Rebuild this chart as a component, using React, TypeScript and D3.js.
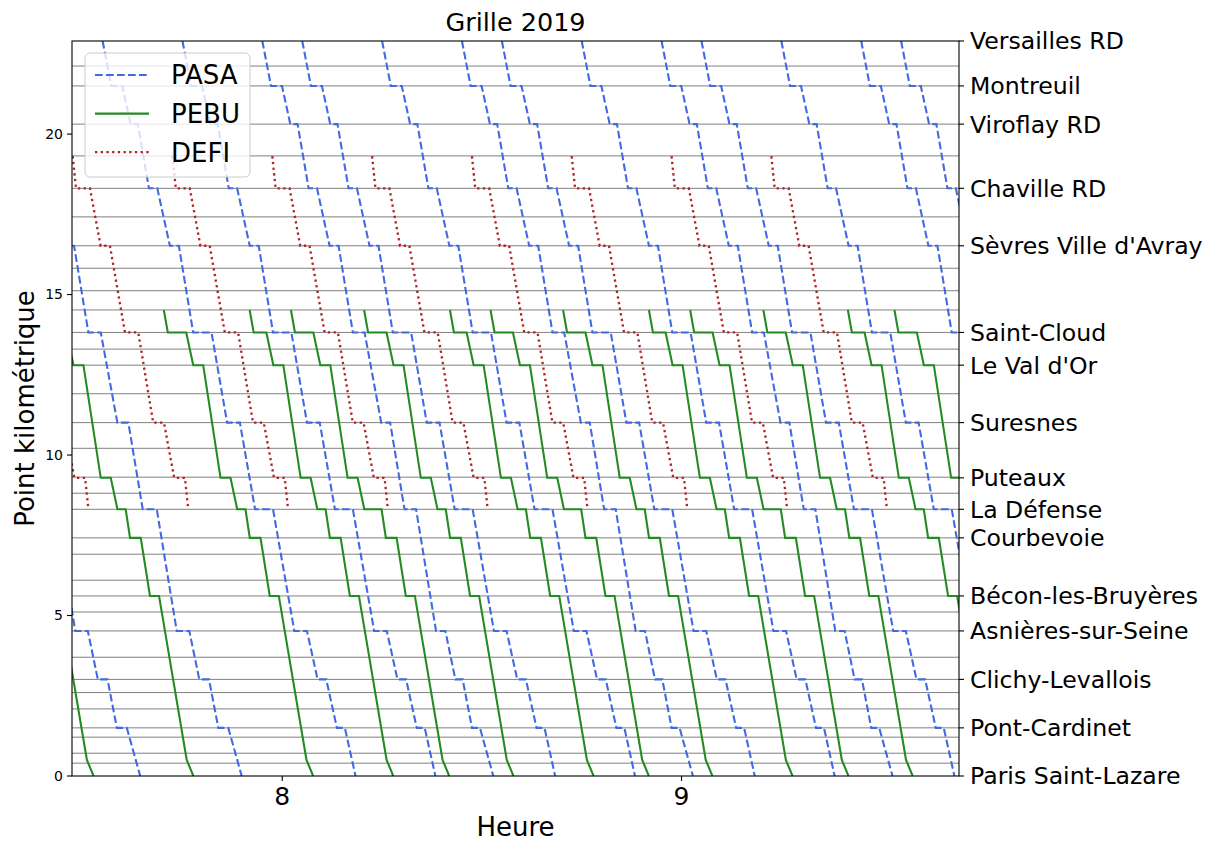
import React from "react";
import * as d3 from "d3";

// ---------- stations (right axis) ----------
const stationNames = [
  "Paris Saint-Lazare", "Pont-Cardinet", "Clichy-Levallois", "Asnières-sur-Seine",
  "Bécon-les-Bruyères", "Courbevoie", "La Défense", "Puteaux", "Suresnes",
  "Le Val d'Or", "Saint-Cloud", "Sèvres Ville d'Avray", "Chaville RD",
  "Viroflay RD", "Montreuil", "Versailles RD",
];
const stationPK = [0, 1.5, 3.01, 4.52, 5.61, 7.42, 8.31, 9.29, 11.01, 12.8, 13.82, 16.52, 18.31, 20.31, 21.5, 22.9];

// horizontal reference lines (PK)
const gridPK = [
  0.4, 0.71, 1.21, 1.5, 2.09, 2.6, 3.01, 3.7, 4.52, 5.11, 5.61, 6.1, 6.91, 7.42,
  8.31, 8.81, 9.31, 10.21, 11.01, 11.91, 12.8, 13.3, 13.82, 14.52, 15.12, 15.82,
  16.52, 17.42, 18.31, 19.32, 20.31, 21.5, 22.12,
];

// ---------- axis ticks ----------
const leftTicks = [0, 5, 10, 15, 20];
const hourTicks = [8, 9];
const timeDomain = [448.4, 581.7]; // minutes since midnight
const pkDomain = [0, 22.9];

// ---------- PASA (Versailles RD -> Paris Saint-Lazare) ----------
// [minutes after departure, PK] up to Saint-Cloud arrival
const pasaUpper: [number, number][] = [
  [0, 22.9], [1.31, 21.5], [2.96, 21.5], [4.21, 20.31], [5.3, 20.31],
  [6.96, 18.31], [8.22, 18.31], [10.11, 16.52], [11.46, 16.52], [13.61, 13.82],
];
// [minutes after Saint-Cloud arrival, PK]
const pasaLowerE: [number, number][] = [
  [0, 13.82], [1.86, 13.82], [4.36, 11.01], [6.01, 11.01], [8.17, 8.31], [10.28, 8.31],
  [13.28, 4.52], [15.17, 4.52], [16.67, 3.01], [18.13, 3.01], [19.53, 1.5], [21.03, 1.5], [23.04, 0],
];
const pasaLowerS: [number, number][] = [
  [0, 13.82], [2.76, 13.82], [5.1, 11.01], [7.02, 11.01], [9.3, 8.31], [12.0, 8.31],
  [15.2, 4.52], [17.1, 4.52], [18.7, 3.01], [20.0, 3.01], [21.6, 1.5], [22.8, 1.5], [24.4, 0],
];
const pasaLowerF: [number, number][] = [
  [0, 13.82], [1.76, 13.82], [4.26, 11.01], [5.6, 11.01], [7.76, 8.31], [9.5, 8.31],
  [12.5, 4.52], [13.9, 4.52], [15.4, 3.01], [16.5, 3.01], [17.9, 1.5], [19.1, 1.5], [21.1, 0],
];
const pasaDepart = [422, 437.25, 453, 465, 477, 483, 495, 507, 513, 525, 537, 543, 555, 567, 573];
const pasaType = ["E", "E", "S", "S", "F", "S", "S", "F", "S", "S", "F", "S", "S", "F", "S"];

// ---------- PEBU ----------
const pebuX: [number, number][] = [
  [0, 14.52], [0.6, 13.82], [3.37, 13.82], [4.42, 12.8], [5.92, 12.8], [8.52, 9.29], [10.02, 9.29],
  [11.03, 8.31], [12.27, 8.31], [12.92, 7.42], [14.53, 7.42], [15.92, 5.61], [17.28, 5.61],
  [21.44, 0.5], [22.44, 0],
];
const pebuY: [number, number][] = [
  [0, 14.52], [0.6, 13.82], [2.51, 13.82], [3.56, 12.8], [5.06, 12.8], [7.66, 9.29], [9.16, 9.29],
  [10.17, 8.31], [11.41, 8.31], [12.06, 7.42], [13.67, 7.42], [15.06, 5.61], [16.42, 5.61],
  [20.58, 0.5], [21.58, 0],
];
const pebuZ: [number, number][] = [
  [0, 14.52], [0.6, 13.82], [3.37, 13.82], [4.42, 12.8], [5.92, 12.8], [8.52, 9.29], [10.02, 9.29],
  [11.03, 8.31], [13.62, 8.31], [14.27, 7.42], [15.88, 7.42], [17.27, 5.61], [18.63, 5.61],
  [22.79, 0.5], [23.79, 0],
];
const pebuStart = [429.2, 444.2, 462.2, 475.1, 481.3, 492.3, 505.2, 511.3, 522.2, 535.1, 541.3, 552.3, 565.0, 572.0];
const pebuType = ["X", "X", "X", "Y", "Z", "X", "Y", "Z", "X", "Y", "Z", "X", "Y", "Z"];

// ---------- DEFI ----------
const defiProfile: [number, number][] = [
  [0, 19.31], [0.5, 18.31], [2.6, 18.31], [4.2, 16.52], [5.6, 16.52], [7.86, 13.82], [9.86, 13.82],
  [12.1, 11.01], [13.72, 11.01], [15.26, 9.29], [16.87, 9.29], [17.37, 8.31],
];
const defiStart = [433.5, 448.5, 463.5, 478.5, 493.5, 508.5, 523.5, 538.5, 553.5];

const series = [
  { name: "PASA", color: "#4169e1", dash: "7.7,3.3", width: 2.08 },
  { name: "PEBU", color: "#228b22", dash: "", width: 2.08 },
  { name: "DEFI", color: "#b22222", dash: "2.3,3.4", width: 2.3 },
];

export default function App() {
  const W = 1216, H = 842;
  const L = 72, R = 959, T = 41, B = 776;
  const x = d3.scaleLinear().domain(timeDomain).range([L, R]);
  const y = d3.scaleLinear().domain(pkDomain).range([B, T]);
  const line = d3.line<[number, number]>().x((d) => x(d[0])).y((d) => y(d[1]));

  const lowerMap: Record<string, [number, number][]> = { E: pasaLowerE, S: pasaLowerS, F: pasaLowerF };
  const pebuMap: Record<string, [number, number][]> = { X: pebuX, Y: pebuY, Z: pebuZ };

  const pasaPaths = pasaDepart.map((t0, i) => {
    const up = pasaUpper.map(([dt, pk]) => [t0 + dt, pk] as [number, number]);
    const sc = t0 + pasaUpper[pasaUpper.length - 1][0];
    const low = lowerMap[pasaType[i]].slice(1).map(([dt, pk]) => [sc + dt, pk] as [number, number]);
    return line([...up, ...low]) || "";
  });
  const pebuPaths = pebuStart.map((t0, i) =>
    line(pebuMap[pebuType[i]].map(([dt, pk]) => [t0 + dt, pk] as [number, number])) || ""
  );
  const defiPaths = defiStart.map((t0) =>
    line(defiProfile.map(([dt, pk]) => [t0 + dt, pk] as [number, number])) || ""
  );

  const font = "DejaVu Sans, Verdana, sans-serif";

  return (
    <svg width={W} height={H} style={{ position: "absolute", left: 0, top: 0, background: "#fff" }} fontFamily={font}>
      <defs>
        <clipPath id="plotclip">
          <rect x={L} y={T} width={R - L} height={B - T} />
        </clipPath>
      </defs>
      <rect x={0} y={0} width={W} height={H} fill="#fff" />
      {/* grid lines */}
      <g clipPath="url(#plotclip)">
        {gridPK.map((pk, i) => (
          <line key={i} x1={L} x2={R} y1={y(pk)} y2={y(pk)} stroke="#808080" strokeWidth={1} />
        ))}
      </g>
      {/* trains */}
      <g clipPath="url(#plotclip)" fill="none">
        {pasaPaths.map((d, i) => (
          <path key={"a" + i} d={d} stroke={series[0].color} strokeWidth={series[0].width} strokeDasharray={series[0].dash} />
        ))}
        {pebuPaths.map((d, i) => (
          <path key={"b" + i} d={d} stroke={series[1].color} strokeWidth={series[1].width} />
        ))}
        {defiPaths.map((d, i) => (
          <path key={"c" + i} d={d} stroke={series[2].color} strokeWidth={series[2].width} strokeDasharray={series[2].dash} />
        ))}
      </g>
      {/* frame */}
      <rect x={L} y={T} width={R - L} height={B - T} fill="none" stroke="#000" strokeWidth={1.1} />
      {/* left ticks */}
      {leftTicks.map((v) => (
        <g key={v}>
          <line x1={L - 5} x2={L} y1={y(v)} y2={y(v)} stroke="#000" strokeWidth={1.1} />
          <text x={L - 9} y={y(v)} dy="0.35em" textAnchor="end" fontSize={14}>{v}</text>
        </g>
      ))}
      {/* bottom ticks */}
      {hourTicks.map((h) => (
        <g key={h}>
          <line x1={x(h * 60)} x2={x(h * 60)} y1={B} y2={B + 5} stroke="#000" strokeWidth={1.1} />
          <text x={x(h * 60)} y={805} textAnchor="middle" fontSize={25}>{h}</text>
        </g>
      ))}
      {/* right station ticks */}
      {stationPK.map((pk, i) => (
        <g key={i}>
          <line x1={R} x2={R + 5} y1={y(pk)} y2={y(pk)} stroke="#000" strokeWidth={1.1} />
          <text x={970} y={y(pk)} dy="0.36em" fontSize={23.6}>{stationNames[i]}</text>
        </g>
      ))}
      {/* labels */}
      <text x={(L + R) / 2} y={31} textAnchor="middle" fontSize={25.5}>Grille 2019</text>
      <text x={(L + R) / 2} y={836} textAnchor="middle" fontSize={26}>Heure</text>
      <text transform={`translate(34,${(T + B) / 2}) rotate(-90)`} textAnchor="middle" fontSize={26}>Point kilométrique</text>
      {/* legend */}
      <g>
        <rect x={85} y={53} width={165} height={124} rx={5} fill="#fff" fillOpacity={0.8} stroke="#cccccc" strokeWidth={1} />
        {series.map((s, i) => (
          <g key={s.name}>
            <line x1={95} x2={149} y1={75 + i * 38.6} y2={75 + i * 38.6} stroke={s.color} strokeWidth={s.width} strokeDasharray={s.dash} />
            <text x={171} y={75 + i * 38.6} dy="0.36em" fontSize={26}>{s.name}</text>
          </g>
        ))}
      </g>
    </svg>
  );
}
